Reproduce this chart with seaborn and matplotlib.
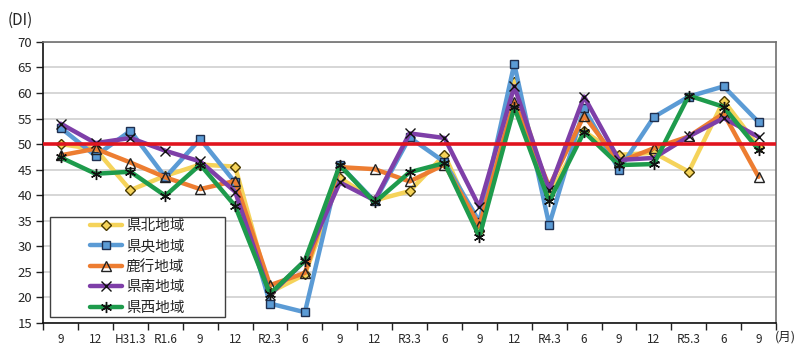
import matplotlib
matplotlib.use("Agg")
import matplotlib.pyplot as plt
from matplotlib.patches import Rectangle
import seaborn as sns
import numpy as np
import pandas as pd

categories = ["9", "12", "H31.3", "R1.6", "9", "12", "R2.3", "6", "9", "12", "R3.3",
              "6", "9", "12", "R4.3", "6", "9", "12", "R5.3", "6", "9"]
kenpoku = [50, 49, 41, 43.8, 46, 45.6, 21, 24.5, 43.4, 39, 40.8, 47.9, 33, 62.1, 40, 52.5, 47.9, 48.3, 44.6, 58.5, 49.5]
kenou = [53.2, 47.7, 52.6, 43.5, 51, 42.5, 18.8, 17.1, 45.9, 38.8, 51.3, 46.5, 34.8, 65.7, 34.2, 57, 45, 55.3, 59.3, 61.3, 54.3]
rokko = [47.8, 49.1, 46.4, 43.5, 41.2, 42.8, 22.4, 24.8, 45.5, 45.1, 42.7, 46, 34, 58.3, 41.7, 55.6, 46.5, 49.2, 51.5, 56, 43.6]
kennan = [54, 50.2, 51.2, 48.7, 46.6, 40.7, 20.5, 27.2, 42.5, 39, 52.1, 51.2, 37.7, 61.3, 41, 59.3, 46.9, 47.3, 51.5, 55.1, 51.4]
kensei = [47.4, 44.2, 44.6, 39.9, 46, 37.9, 20.7, 27.2, 45.9, 38.6, 44.5, 46.3, 31.9, 57.2, 38.8, 52.4, 45.9, 46.1, 59.5, 57.3, 48.9]
series_names = ["県北地域", "県央地域", "鹿行地域", "県南地域", "県西地域"]
baseline = 50

sns.set_theme(style="white")
plt.rcParams['font.family'] = ['Noto Sans CJK JP', 'DejaVu Sans']

fig = plt.figure(figsize=(8.0, 3.54), dpi=100)
ax = fig.add_axes([0.054, 0.0876, 0.916, 0.794])

x = np.arange(len(categories))
styles = [
    (kenpoku, "#F5D35A", "D", "#F5D35A", "#4A3A00", 5.5),
    (kenou, "#5B9BD5", "s", "#5B9BD5", "#1F2F4F", 6),
    (rokko, "#ED7D31", "^", "none", "#222222", 6.5),
    (kennan, "#7E3FA8", "x", "none", "#111111", 7),
    (kensei, "#1E9B4C", (6, 2, 0), "none", "#111111", 8),
]
for name, (vals, col, mk, mfc, mec, ms) in zip(series_names, styles):
    df = pd.DataFrame({"x": x, "y": vals})
    sns.lineplot(data=df, x="x", y="y", ax=ax, color=col, linewidth=3.2,
                 marker=mk, markersize=ms, markerfacecolor=mfc,
                 markeredgecolor=mec, markeredgewidth=1.0, label=name)

ax.axhline(baseline, color="#E0141E", linewidth=2.6, zorder=10)

ax.set_xlim(-0.5, len(categories) - 0.5)
ax.set_ylim(15, 70)
ax.set_yticks(np.arange(15, 71, 5))
ax.yaxis.grid(True, color="#D0D0D0", linewidth=1.2)
ax.set_axisbelow(True)
ax.set_xticks(np.arange(-0.5, len(categories), 1.0))
ax.set_xticklabels([])
ax.set_xticks(x, minor=True)
ax.set_xticklabels(categories, minor=True, fontsize=8.5)
ax.tick_params(axis="x", which="major", direction="out", length=5, width=1, color="#222222", bottom=True)
ax.tick_params(axis="x", which="minor", length=0, pad=7)
ax.tick_params(axis="y", direction="out", length=5, width=1, color="#222222", left=True, labelsize=9.5, pad=3)
ax.set_xlabel("")
ax.set_ylabel("")

for side in ["left", "bottom"]:
    ax.spines[side].set_color("#111111")
    ax.spines[side].set_linewidth(1.2)
for side in ["top", "right"]:
    ax.spines[side].set_color("#707070")
    ax.spines[side].set_linewidth(1.2)

# legend frame drawn as a box, legend entries centered inside
box = Rectangle((0.0095, 0.021), 0.2385, 0.356, transform=ax.transAxes,
                facecolor="white", edgecolor="#404040", linewidth=1.0, zorder=19)
ax.add_patch(box)
leg = ax.legend(loc="center", bbox_to_anchor=(0.128, 0.2), frameon=False,
                fontsize=10.5, handlelength=2.2, handletextpad=0.3,
                labelspacing=0.45, borderpad=0, borderaxespad=0)
leg.set_zorder(20)

fig.text(0.009, 0.943, "(DI)", fontsize=11, ha="left", va="center")
fig.text(0.968, 0.047, "(月)", fontsize=9, ha="left", va="center")

fig.savefig("out.png", dpi=100)
